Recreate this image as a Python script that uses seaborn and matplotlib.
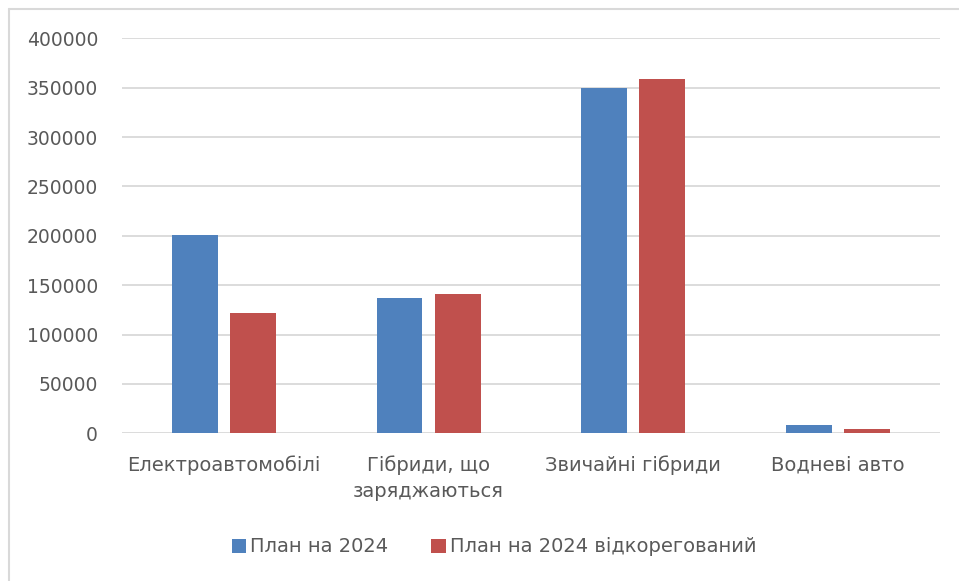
import matplotlib
matplotlib.use("Agg")
import matplotlib.pyplot as plt
from matplotlib.lines import Line2D
import seaborn as sns
import pandas as pd

categories = ["Електроавтомобілі", "Гібриди, що\nзаряджаються", "Звичайні гібриди", "Водневі авто"]
series_names = ["План на 2024", "План на 2024 відкорегований"]
plan_2024 = [201000, 137000, 349500, 8000]
plan_2024_adjusted = [122000, 141000, 359000, 4500]
y_ticks = [0, 50000, 100000, 150000, 200000, 250000, 300000, 350000, 400000]

BLUE = "#4F81BD"
RED = "#C0504D"
TEXT = "#595959"
GRID = "#D9D9D9"

sns.set_theme(style="white")
plt.rcParams["font.family"] = ["DejaVu Sans"]

df = pd.DataFrame({
    "category": categories * 2,
    "series": [series_names[0]] * 4 + [series_names[1]] * 4,
    "value": plan_2024 + plan_2024_adjusted,
})

W, H = 959, 581
fig = plt.figure(figsize=(W / 100, H / 100), dpi=100)
ax = fig.add_axes([121.7 / W, 1 - 433.3 / H, (940 - 121.7) / W, (433.3 - 38.3) / H])

sns.barplot(data=df, x="category", y="value", hue="series", order=categories,
            hue_order=series_names, palette=[BLUE, RED], width=0.568, gap=0.21,
            saturation=1, linewidth=0, ax=ax, legend=True)

ax.set_ylim(0, 400000)
ax.set_xlim(-0.5, 3.5)
ax.set_yticks(y_ticks)
ax.set_yticklabels([str(v) for v in y_ticks])
ax.set_xlabel("")
ax.set_ylabel("")
ax.grid(axis="y", color=GRID, linewidth=1.3)
ax.set_axisbelow(True)
for s in ax.spines.values():
    s.set_visible(False)
ax.tick_params(axis="y", length=0, pad=17, labelsize=13.5, labelcolor=TEXT)
ax.tick_params(axis="x", length=0, pad=16, labelsize=14, labelcolor=TEXT)
for lbl in ax.get_xticklabels():
    lbl.set_multialignment("center")
    lbl.set_linespacing(1.45)

handles, labels = ax.get_legend_handles_labels()
ax.get_legend().remove()
fig.legend(handles, labels, loc="center", bbox_to_anchor=(494 / W, 1 - 547 / H),
           ncol=2, frameon=False, fontsize=14, labelcolor=TEXT,
           handlelength=0.75, handleheight=0.75, handletextpad=0.2, columnspacing=2.2)

# chart-area border: left and top edges only
x0, ytop = 8.5 / W, 1 - 9.0 / H
fig.add_artist(Line2D([x0, x0], [0, ytop], transform=fig.transFigure,
                      color=GRID, linewidth=1.5, solid_capstyle="round"))
fig.add_artist(Line2D([x0, 1], [ytop, ytop], transform=fig.transFigure,
                      color=GRID, linewidth=1.5, solid_capstyle="round"))

fig.savefig("out.png", dpi=100)
